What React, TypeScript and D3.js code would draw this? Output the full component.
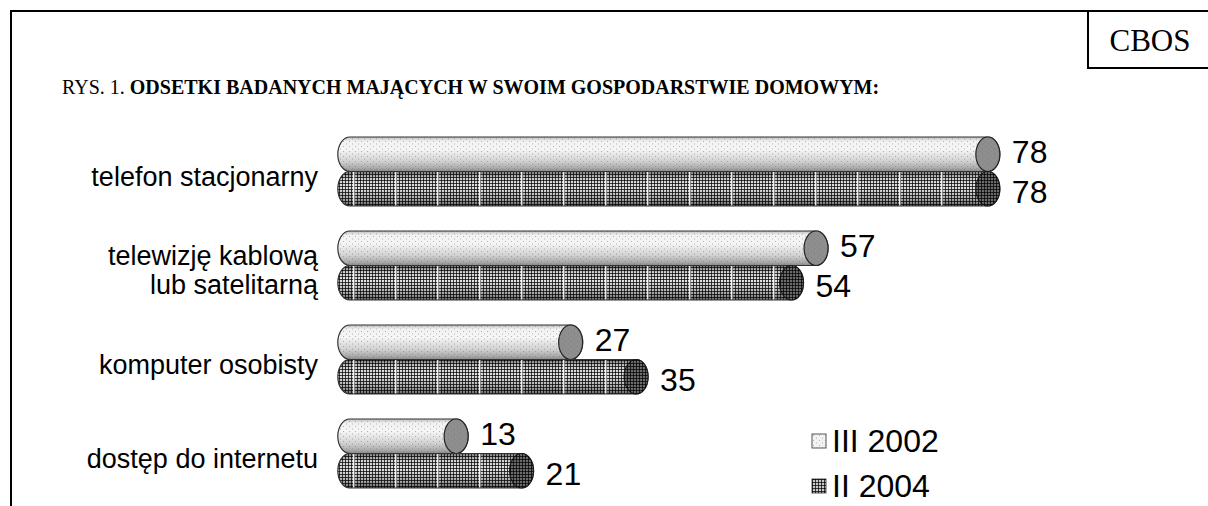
import React from "react";
import * as d3 from "d3";

const categories = ["telefon stacjonarny", "telewizję kablową\nlub satelitarną", "komputer osobisty", "dostęp do internetu"];
const seriesNames = ["III 2002", "II 2004"];
const values2002 = [78, 57, 27, 13];
const values2004 = [78, 54, 35, 21];
const titlePrefix = "RYS. 1. ";
const titleBold = "ODSETKI BADANYCH MAJĄCYCH W SWOIM GOSPODARSTWIE DOMOWYM:";
const sourceLabel = "CBOS";

const W = 1208;
const H = 506;

export default function App() {
  const x = d3.scaleLinear().domain([0, 100]).range([349.8, 349.8 + 818]);
  const y = d3
    .scaleBand<string>()
    .domain(categories)
    .range([124.5, 500.5])
    .paddingInner(0.266)
    .paddingOuter(0.133);
  const bh = y.bandwidth() / 2;
  const rx = 12;
  const ry = bh / 2;
  const sans = "'Liberation Sans', Arial, sans-serif";
  const serif = "'Liberation Serif', 'Times New Roman', serif";

  const series = [
    { name: seriesNames[0], values: values2002, body: "url(#g1)", over: "url(#dots)", cap: "#8e8e8e", capOver: "url(#dots)", dy: 9 },
    { name: seriesNames[1], values: values2004, body: "url(#g2)", over: "url(#grid)", cap: "#6a6a6a", capOver: "url(#grid)", dy: 14 },
  ];

  const cyl = (x0: number, x1: number, top: number, bottom: number) =>
    `M${x0},${top}L${x1},${top}A${rx},${ry} 0 0 1 ${x1},${bottom}L${x0},${bottom}A${rx},${ry} 0 0 1 ${x0},${top}Z`;

  return (
    <svg width={W} height={H} style={{ position: "fixed", left: 0, top: 0, background: "#fff" }}>
      <defs>
        <linearGradient id="g1" x1="0" y1="0" x2="0" y2="1">
          <stop offset="0" stopColor="#bdbdbd" />
          <stop offset="0.12" stopColor="#f2f2f2" />
          <stop offset="0.35" stopColor="#f6f6f6" />
          <stop offset="0.7" stopColor="#d2d2d2" />
          <stop offset="0.9" stopColor="#aaaaaa" />
          <stop offset="1" stopColor="#888888" />
        </linearGradient>
        <linearGradient id="g2" x1="0" y1="0" x2="0" y2="1">
          <stop offset="0" stopColor="#777" />
          <stop offset="0.2" stopColor="#cfcfcf" />
          <stop offset="0.45" stopColor="#e2e2e2" />
          <stop offset="0.8" stopColor="#a8a8a8" />
          <stop offset="1" stopColor="#666" />
        </linearGradient>
        <pattern id="dots" width="6" height="5" patternUnits="userSpaceOnUse">
          <rect x="1" y="1" width="1" height="1" fill="#b06070" opacity="0.55" />
          <rect x="4" y="3.5" width="1" height="1" fill="#707070" opacity="0.5" />
        </pattern>
        <pattern id="grid" width="3" height="3" patternUnits="userSpaceOnUse">
          <rect x="0" y="0" width="1" height="3" fill="#000" opacity="0.72" />
          <rect x="0" y="0" width="3" height="1" fill="#000" opacity="0.72" />
        </pattern>
        <pattern id="seams" x="353" width="42" height="10" patternUnits="userSpaceOnUse">
          <rect x="0" y="0" width="1.5" height="10" fill="#fff" opacity="0.85" />
        </pattern>
      </defs>

      {/* frame */}
      <path d={`M11,${H + 5}V11H${W + 5}`} fill="none" stroke="#000" strokeWidth={2} />
      <path d={`M1088,11V68H${W + 5}`} fill="none" stroke="#000" strokeWidth={2} />
      <text x={1150} y={51} textAnchor="middle" fontFamily={serif} fontSize={31}>
        {sourceLabel}
      </text>

      <text x={62} y={94} fontFamily={serif} fontSize={20}>
        {titlePrefix}
        <tspan fontWeight="bold">{titleBold}</tspan>
      </text>

      {/* category labels */}
      {categories.map((c) => {
        const cy = (y(c) as number) + y.bandwidth() / 2;
        const lines = c.split("\n");
        return (
          <text key={c} x={318} textAnchor="end" fontFamily={sans} fontSize={27}>
            {lines.map((l, i) => (
              <tspan key={i} x={318} y={lines.length === 1 ? cy + 14 : cy - 1 + i * 29}>
                {l}
              </tspan>
            ))}
          </text>
        );
      })}

      {/* cylinders */}
      {categories.map((c, ci) =>
        series.map((s, si) => {
          const top = (y(c) as number) + si * bh;
          const bottom = top + bh;
          const cy = top + bh / 2;
          const x0 = x(0);
          const x1 = x(s.values[ci]);
          const d = cyl(x0, x1, top, bottom);
          return (
            <g key={`${c}-${si}`}>
              <path d={d} fill={s.body} />
              <path d={d} fill={s.over} />
              {si === 1 && <path d={d} fill="url(#seams)" />}
              <path d={d} fill="none" stroke="#333" strokeWidth={1.2} />
              <ellipse cx={x1} cy={cy} rx={rx} ry={ry} fill={s.cap} stroke="#222" strokeWidth={1.2} />
              <ellipse cx={x1} cy={cy} rx={rx} ry={ry} fill={s.capOver} />
              <text x={x1 + rx + 12} y={cy + s.dy} fontFamily={sans} fontSize={32}>
                {s.values[ci]}
              </text>
            </g>
          );
        })
      )}

      {/* legend */}
      {series.map((s, i) => (
        <g key={s.name} transform={`translate(812, ${434 + i * 45})`}>
          <rect width={14} height={14} fill={i === 0 ? "#f2f2f2" : "#c8c8c8"} stroke="#555" strokeWidth={1} />
          <rect width={14} height={14} fill={s.over} />
          <text x={20} y={18} fontFamily={sans} fontSize={32}>
            {s.name}
          </text>
        </g>
      ))}
    </svg>
  );
}
